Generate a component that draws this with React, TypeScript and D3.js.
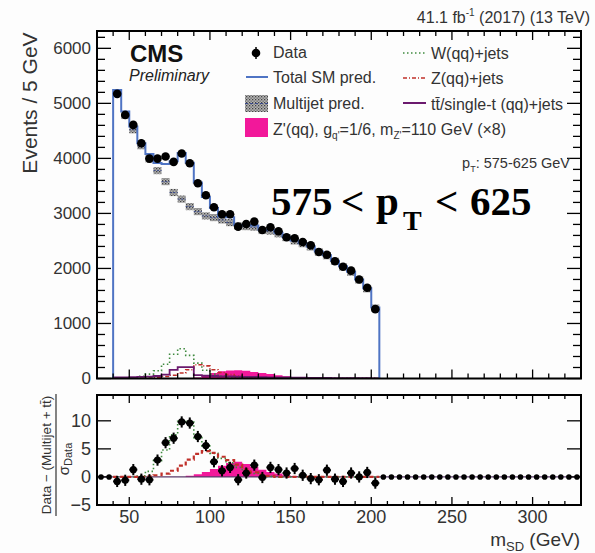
import React from 'react';
import * as d3 from 'd3';

// ---------- data ----------
const binWidth = 5;
const massLow = d3.range(40, 205, 5); // 33 bins: 40..205 GeV
const dataEvents = [5173, 4790, 4609, 4276, 3996, 3996, 4033, 3936, 4090, 3912, 3549, 3330, 3112, 2985, 2985, 2760, 2809, 2851, 2700, 2749, 2676, 2567, 2548, 2480, 2420, 2300, 2250, 2130, 2030, 1960, 1800, 1650, 1260];
const totalSM = [5245, 4850, 4580, 4276, 4082, 3918, 3900, 3950, 4100, 3920, 3560, 3300, 3100, 2950, 2930, 2790, 2790, 2780, 2710, 2700, 2650, 2570, 2510, 2460, 2400, 2310, 2240, 2140, 2040, 1940, 1800, 1640, 1290];
const multijet = [5190, 4780, 4520, 4230, 3990, 3778, 3578, 3380, 3260, 3124, 3033, 2955, 2924, 2882, 2833, 2770, 2760, 2750, 2690, 2680, 2630, 2560, 2500, 2450, 2390, 2300, 2230, 2130, 2030, 1930, 1790, 1630, 1280];
const wJets = [5, 8, 15, 40, 80, 140, 260, 440, 540, 420, 280, 150, 80, 45, 25, 18, 14, 12, 10, 8, 7, 6, 5, 5, 4, 4, 3, 3, 3, 2, 2, 2, 2];
const zJets = [2, 2, 3, 5, 10, 20, 35, 60, 100, 160, 250, 230, 160, 110, 70, 45, 28, 16, 10, 6, 4, 3, 2, 2, 2, 1, 1, 1, 1, 1, 1, 1, 1];
const ttbar = [20, 20, 25, 30, 35, 45, 70, 155, 205, 205, 60, 50, 45, 40, 38, 35, 30, 28, 25, 22, 20, 18, 16, 14, 12, 10, 9, 8, 7, 6, 5, 5, 4];
const zPrime = [0, 0, 0, 0, 0, 0, 0, 1, 2, 5, 20, 60, 100, 130, 145, 150, 140, 120, 100, 80, 60, 40, 25, 15, 10, 6, 4, 2, 1, 0, 0, 0, 0];

// ratio panel (units of sigma_Data)
const ratioLow = d3.range(30, 330, 5); // 60 bins 30..330
const ratioData = [0, 0, -0.8, -0.6, 1.3, -0.4, -0.5, 3.0, 6.1, 6.9, 9.8, 9.6, 7.2, 5.6, 2.7, 1.1, 1.7, -0.5, 0.7, 2.1, -0.1, 1.7, 1.3, 0.7, 1.5, 0.3, -0.3, -0.5, 1.2, -0.4, -0.8, 0.7, 0, 0.8, -1.1,
  0, 0, 0, 0, 0, 0, 0, 0, 0, 0, 0, 0, 0, 0, 0, 0, 0, 0, 0, 0, 0, 0, 0, 0, 0];
const ratioVZ = [0, 0, 0, 0.2, 1.0, 2.9, 4.8, 7.5, 9.9, 9.8, 7.0, 5.5, 4.2, 3.3, 2.5, 1.7, 1.0, 0.6, 0.3, 0.1, 0, 0, 0, 0, 0, 0, 0, 0, 0, 0, 0, 0, 0];
const ratioZ = [0, 0, 0, 0, 0.1, 0.3, 0.6, 1.1, 2.0, 3.1, 4.1, 4.6, 4.3, 3.6, 3.0, 2.2, 1.4, 0.8, 0.4, 0.2, 0, 0, 0, 0, 0, 0, 0, 0, 0, 0, 0, 0, 0];
const ratioSig = [0, 0, 0, 0, 0, 0, 0, 0, 0, 0.2, 0.5, 0.9, 1.4, 2.0, 2.5, 2.7, 2.3, 1.8, 1.3, 0.9, 0.6, 0.3, 0.15, 0, 0, 0, 0, 0, 0, 0, 0, 0, 0];

const xMajorTicks = [50, 100, 150, 200, 250, 300];
const xMinorTicks = d3.range(30, 331, 10);
const yTopMajor = [0, 1000, 2000, 3000, 4000, 5000, 6000];
const yTopMinor = d3.range(0, 6301, 200);
const yBotMajor = [-5, 0, 5, 10];

const SANS = '"Liberation Sans", Arial, Helvetica, sans-serif';
const SERIF = '"Liberation Serif", "Times New Roman", serif';
const BLUE = '#4f74c4';
const GREEN = '#3f8a3f';
const RED = '#c0302a';
const PURPLE = '#6b1a6e';
const MAGENTA = '#f2189a';
const TXT = '#333';

export default function App() {
  const x = d3.scaleLinear().domain([30, 330]).range([97, 581]);
  const yT = d3.scaleLinear().domain([0, 6315]).range([378.5, 31]);
  const yB = d3.scaleLinear().domain([-5, 14.6]).range([505, 395]);

  const edges = [...massLow, massLow[massLow.length - 1] + binWidth];
  const stepPts = (vals: number[]) => [
    [edges[0], 0] as [number, number],
    ...vals.map((v, i) => [edges[i], v] as [number, number]),
    [edges[vals.length], vals[vals.length - 1]] as [number, number],
    [edges[vals.length], 0] as [number, number],
  ];
  const stepLine = (vals: number[], ys: d3.ScaleLinear<number, number>) =>
    d3.line<[number, number]>().x(d => x(d[0])).y(d => ys(d[1])).curve(d3.curveStepAfter)(stepPts(vals)) || '';
  const stepArea = (vals: number[], ys: d3.ScaleLinear<number, number>) =>
    d3.area<[number, number]>().x(d => x(d[0])).y0(ys(0)).y1(d => ys(d[1])).curve(d3.curveStepAfter)(stepPts(vals)) || '';

  const topL = x(30), topR = x(330);
  const topY0 = yT(6315), topY1 = yT(0);
  const botY0 = yB(14.6), botY1 = yB(-5);

  return (
    <svg width={595} height={553} style={{ position: 'absolute', left: 0, top: 0, background: '#fdfdfd' }} fontFamily={SANS}>
      <defs>
        <pattern id="hatch" width="3" height="3" patternUnits="userSpaceOnUse">
          <rect width="3" height="3" fill="#b4b4b4" />
          <rect width="1.3" height="1.3" fill="#444" />
          <rect x="1.5" y="1.5" width="1.3" height="1.3" fill="#666" />
        </pattern>
        <clipPath id="clipTop"><rect x={topL} y={topY0} width={topR - topL} height={topY1 - topY0} /></clipPath>
        <clipPath id="clipBot"><rect x={topL} y={botY0} width={topR - topL} height={botY1 - botY0} /></clipPath>
      </defs>

      {/* ---------- top panel ---------- */}
      <g clipPath="url(#clipTop)">
        <path d={stepArea(zPrime, yT)} fill={MAGENTA} />
        <path d={stepLine(wJets, yT)} fill="none" stroke={GREEN} strokeWidth={1.6} strokeDasharray="1.5 2.5" />
        <path d={stepLine(zJets, yT)} fill="none" stroke={RED} strokeWidth={1.6} strokeDasharray="4 2 1 2" />
        <path d={stepLine(ttbar, yT)} fill="none" stroke={PURPLE} strokeWidth={1.8} />
        {multijet.map((v, i) => (
          <g key={'mj' + i}>
            <rect x={x(massLow[i])} y={yT(v + 65)} width={x(massLow[i] + binWidth) - x(massLow[i])} height={yT(v - 65) - yT(v + 65)} fill="url(#hatch)" />
            <line x1={x(massLow[i])} x2={x(massLow[i] + binWidth)} y1={yT(v)} y2={yT(v)} stroke="#3a4a8a" strokeWidth={1} strokeDasharray="2 1.5" />
          </g>
        ))}
        <path d={stepLine(totalSM, yT)} fill="none" stroke={BLUE} strokeWidth={2} />
        {dataEvents.map((v, i) => {
          const cx = x(massLow[i] + binWidth / 2);
          const e = Math.sqrt(v);
          return (
            <g key={'d' + i}>
              <line x1={cx} x2={cx} y1={yT(v + e)} y2={yT(v - e)} stroke="#000" strokeWidth={1.5} />
              <circle cx={cx} cy={yT(v)} r={4.3} fill="#000" />
            </g>
          );
        })}
      </g>

      {/* top panel ticks */}
      <g stroke="#000" strokeWidth={1.3}>
        {yTopMinor.map(t => {
          const major = t % 1000 === 0;
          const L = major ? 14 : 8;
          return (
            <g key={'yt' + t}>
              <line x1={topL} x2={topL + L} y1={yT(t)} y2={yT(t)} />
              <line x1={topR} x2={topR - L} y1={yT(t)} y2={yT(t)} />
            </g>
          );
        })}
        {xMinorTicks.map(t => {
          const major = t % 50 === 0;
          const L = major ? 9 : 5;
          return (
            <g key={'xt' + t}>
              <line x1={x(t)} x2={x(t)} y1={topY1} y2={topY1 - L} />
              <line x1={x(t)} x2={x(t)} y1={topY0} y2={topY0 + L} />
            </g>
          );
        })}
      </g>
      <rect x={topL} y={topY0} width={topR - topL} height={topY1 - topY0} fill="none" stroke="#000" strokeWidth={2} />
      {yTopMajor.map(t => (
        <text key={'ytl' + t} x={91} y={yT(t)} dy="0.35em" textAnchor="end" fontSize={17} fill={TXT}>{t}</text>
      ))}
      <text transform="translate(37,103) rotate(-90)" textAnchor="middle" fontSize={21} fill={TXT}>Events / 5 GeV</text>

      {/* CMS labels */}
      <text x={130} y={62} fontSize={24} fontWeight="bold" fill="#111">CMS</text>
      <text x={129} y={81} fontSize={16} fontStyle="italic" fill="#222">Preliminary</text>
      <text x={590} y={23} textAnchor="end" fontSize={16} fill={TXT}>
        41.1 fb<tspan fontSize={10} dy={-7}>-1</tspan><tspan dy={7}> (2017) (13 TeV)</tspan>
      </text>

      {/* legend */}
      <g fontSize={16} fill={TXT}>
        <line x1={256} x2={256} y1={47} y2={59} stroke="#000" strokeWidth={1.5} />
        <circle cx={256} cy={53} r={4.3} fill="#000" />
        <text x={273} y={58}>Data</text>
        <line x1={246} x2={268} y1={77} y2={77} stroke={BLUE} strokeWidth={2} />
        <text x={273} y={83}>Total SM pred.</text>
        <rect x={245} y={95} width={23} height={17} fill="url(#hatch)" />
        <line x1={245} x2={268} y1={103.5} y2={103.5} stroke="#3a4a8a" strokeWidth={1.2} strokeDasharray="3 2" />
        <text x={273} y={109}>Multijet pred.</text>
        <rect x={245} y={118} width={23} height={19} fill={MAGENTA} />
        <text x={273} y={135}>Z'(qq), g<tspan fontSize={10} dy={4}>q'</tspan><tspan dy={-4}>=1/6, m</tspan><tspan fontSize={10} dy={4}>Z'</tspan><tspan dy={-4}>=110 GeV (×8)</tspan></text>

        <line x1={403} x2={426} y1={53} y2={53} stroke={GREEN} strokeWidth={1.6} strokeDasharray="1.5 2.5" />
        <text x={431} y={59}>W(qq)+jets</text>
        <line x1={403} x2={426} y1={78} y2={78} stroke={RED} strokeWidth={1.6} strokeDasharray="4 2 1 2" />
        <text x={431} y={84}>Z(qq)+jets</text>
        <line x1={403} x2={426} y1={103} y2={103} stroke={PURPLE} strokeWidth={2} />
        <text x={431} y={110}>t{'t\u0304'}/single-t (qq)+jets</text>
      </g>

      <text x={570} y={168} textAnchor="end" fontSize={14.5} fill={TXT}>p<tspan fontSize={9} dy={4}>T</tspan><tspan dy={-4}>: 575-625 GeV</tspan></text>

      {/* big overlay label */}
      <g fontFamily={SERIF} fontWeight="bold" fill="#000">
        <text x={271} y={215} fontSize={41}>575</text>
        <text x={341} y={215} fontSize={41}>&lt;</text>
        <text x={376} y={215} fontSize={41}>p</text>
        <text x={403} y={230} fontSize={28}>T</text>
        <text x={435} y={215} fontSize={41}>&lt;</text>
        <text x={470} y={215} fontSize={41}>625</text>
      </g>

      {/* ---------- ratio panel ---------- */}
      <g clipPath="url(#clipBot)">
        <path d={stepArea(ratioSig, yB)} fill={MAGENTA} />
        <line x1={topL} x2={topR} y1={yB(0)} y2={yB(0)} stroke="#5a3a6a" strokeWidth={1.3} />
        <path d={stepLine(ratioVZ, yB)} fill="none" stroke={GREEN} strokeWidth={1.6} strokeDasharray="1.5 2.5" />
        <path d={stepLine(ratioZ, yB)} fill="none" stroke={RED} strokeWidth={2.2} strokeDasharray="4 3" />
        {ratioData.map((v, i) => {
          const lo = ratioLow[i];
          const cx = x(lo + binWidth / 2);
          const inData = lo >= 40 && lo < 205;
          return inData ? (
            <g key={'r' + i}>
              <line x1={cx} x2={cx} y1={yB(v + 1)} y2={yB(v - 1)} stroke="#000" strokeWidth={2} />
              <line x1={x(lo)} x2={x(lo + binWidth)} y1={yB(v)} y2={yB(v)} stroke="#000" strokeWidth={2} />
              <circle cx={cx} cy={yB(v)} r={3.6} fill="#000" />
            </g>
          ) : (
            <circle key={'r' + i} cx={cx} cy={yB(v)} r={2.8} fill="#000" />
          );
        })}
      </g>
      <g stroke="#000" strokeWidth={1.3}>
        {yBotMajor.map(t => (
          <g key={'ybt' + t}>
            <line x1={topL} x2={topL + 14} y1={yB(t)} y2={yB(t)} />
            <line x1={topR} x2={topR - 14} y1={yB(t)} y2={yB(t)} />
          </g>
        ))}
        {xMinorTicks.map(t => {
          const major = t % 50 === 0;
          const L = major ? 8 : 4;
          return (
            <g key={'xbt' + t}>
              <line x1={x(t)} x2={x(t)} y1={botY1} y2={botY1 - L} />
              <line x1={x(t)} x2={x(t)} y1={botY0} y2={botY0 + L} />
            </g>
          );
        })}
      </g>
      <rect x={topL} y={botY0} width={topR - topL} height={botY1 - botY0} fill="none" stroke="#000" strokeWidth={2} />
      {yBotMajor.map(t => (
        <text key={'ybl' + t} x={91} y={yB(t)} dy="0.35em" textAnchor="end" fontSize={18} fill={TXT}>{t < 0 ? '\u2212' + Math.abs(t) : t}</text>
      ))}
      {xMajorTicks.map(t => (
        <text key={'xbl' + t} x={x(t)} y={523} textAnchor="middle" fontSize={18} fill={TXT}>{t}</text>
      ))}
      <text x={580} y={546} textAnchor="end" fontSize={19} fill={TXT}>m<tspan fontSize={13} dy={5}>SD</tspan><tspan dy={-5}> (GeV)</tspan></text>

      <g transform="translate(57,455) rotate(-90)" fill={TXT}>
        <text x={0} y={-6} textAnchor="middle" fontSize={13.5}>Data − (Multijet + t{'t\u0304'})</text>
        <line x1={-61} x2={61} y1={-1} y2={-1} stroke="#333" strokeWidth={1.2} />
        <text x={-4} y={12} textAnchor="middle" fontSize={15}>σ<tspan fontSize={11} dy={3}>Data</tspan></text>
      </g>
    </svg>
  );
}
